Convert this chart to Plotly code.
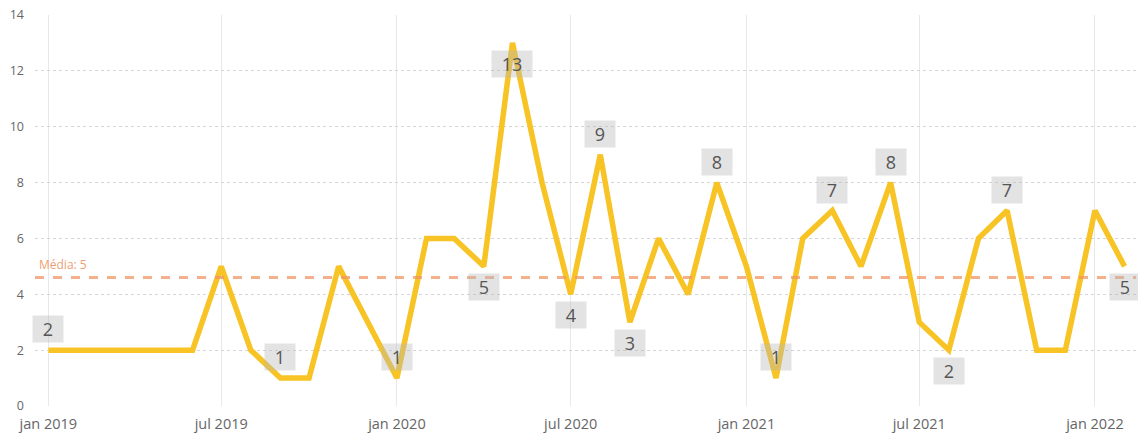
import pandas as pd
import plotly.graph_objects as go

# Monthly counts, jan 2019 .. feb 2022
meses = pd.date_range("2019-01-01", "2022-02-01", freq="MS")
valores = [2, 2, 2, 2, 2, 2, 5, 2, 1, 1, 5, 3,
           1, 6, 6, 5, 13, 8, 4, 9, 3, 6, 4, 8,
           5, 1, 6, 7, 5, 8, 3, 2, 6, 7, 2, 2,
           7, 5]

# Average reference value shown by the dashed line
media = 4.6

# Months that get a value badge
meses_rotulo = ["2019-01", "2019-09", "2020-01", "2020-04", "2020-05", "2020-07",
                "2020-08", "2020-09", "2020-12", "2021-02", "2021-04", "2021-06",
                "2021-08", "2021-10", "2022-02"]
# Badge side relative to the point: +1 above, -1 below
lado_rotulo = [1, 1, 1, -1, -1, -1, 1, -1, 1, 1, 1, 1, -1, 1, -1]

tick_vals = pd.date_range("2019-01-01", "2022-01-01", freq="6MS")
tick_text = ["jan 2019", "jul 2019", "jan 2020", "jul 2020",
             "jan 2021", "jul 2021", "jan 2022"]

AMARELO = "#F7C325"
FONTE = "Open Sans, Noto Sans, sans-serif"

fig = go.Figure()

fig.add_trace(go.Scatter(
    x=meses, y=valores, mode="lines",
    line=dict(color=AMARELO, width=5.5),
    hoverinfo="x+y", showlegend=False,
))

# Average reference line
fig.add_shape(type="line", xref="paper", yref="y", x0=0, x1=1, y0=media, y1=media,
              line=dict(color="rgba(240,150,100,0.75)", width=3, dash="dash"),
              layer="above")
fig.add_annotation(xref="paper", yref="y", x=0.002, y=media, text=f"Média: {round(media)}",
                   showarrow=False, xanchor="left", yanchor="bottom", yshift=3,
                   font=dict(family=FONTE, size=12, color="#EE9F72"))

serie = pd.Series(valores, index=meses.strftime("%Y-%m"))
for mes, lado in zip(meses_rotulo, lado_rotulo):
    v = serie[mes]
    fig.add_annotation(
        x=pd.Timestamp(mes + "-01"), y=v, text=str(v), showarrow=False,
        yshift=21 * lado,
        font=dict(family=FONTE, size=18, color="#555555"),
        bgcolor="rgba(185,185,185,0.4)", borderpad=3,
        width=18 + 10 * (len(str(v)) - 1) + 6, height=20,
    )

fig.update_layout(
    width=1138, height=435,
    margin=dict(l=35, r=2, t=15, b=29),
    plot_bgcolor="white", paper_bgcolor="white",
    font=dict(family=FONTE, color="#666666"),
)

fig.update_xaxes(
    range=[pd.Timestamp("2018-12-18"), pd.Timestamp("2022-02-13")],
    tickvals=tick_vals, ticktext=tick_text,
    tickfont=dict(size=14.5, color="#666666"),
    showgrid=True, gridcolor="#E8E8E8", gridwidth=1,
    zeroline=False, showline=False, ticks="", ticklabelstandoff=7,
    automargin=False,
)
fig.update_yaxes(
    range=[0, 14], dtick=2,
    tickfont=dict(size=12.5, color="#666666"),
    showgrid=True, gridcolor="#D4D4D4", gridwidth=1, griddash="dot",
    zeroline=False, showline=False, ticks="", ticklabelstandoff=10,
    automargin=False,
)

fig.write_html("out.html")
